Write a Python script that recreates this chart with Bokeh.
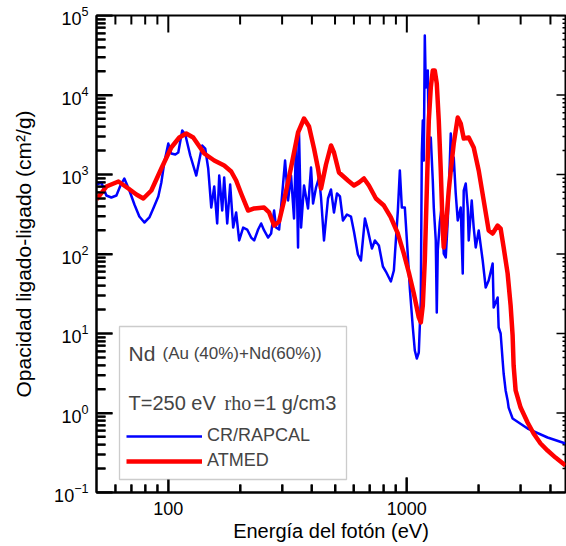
import math
from bokeh.plotting import figure
from bokeh.models import (Range1d, FixedTicker, BasicTickFormatter, LogTickFormatter,
                          BoxAnnotation, Label, Legend, LegendItem)
from bokeh.embed import file_html
from bokeh.resources import INLINE

FONT = "Liberation Sans"

# CR/RAPCAL (blue)
energy_rapcal = [50, 52.4, 55.0, 57.7, 60.6, 63.0, 65.4, 68.7, 72.1, 75.6,
                 79.4, 83.3, 86.5, 90.8, 93.5, 96.2, 100, 102.9, 107.0, 110.1,
                 114.4, 117.8, 123.6, 131.0, 134.8, 138.8, 142.8, 147.0, 151.4, 155.8,
                 160.3, 163.5, 168.3, 171.5, 176.6, 181.7, 187.1, 192.5, 198.2, 206.0,
                 214.1, 222.5, 229.0, 238.0, 245.0, 252.2, 262.1, 269.8, 277.7, 283.1,
                 291.4, 299.9, 308.7, 317.7, 327.0, 336.6, 343.2, 349.9, 353.3, 360.2,
                 370.7, 385.3, 396.6, 404.4, 416.2, 428.4, 436.8, 449.5, 467.2, 480.9,
                 495.0, 509.5, 524.4, 539.8, 561.0, 583.1, 600.2, 623.8, 642.1, 667.4,
                 686.9, 713.9, 734.8, 763.6, 793.7, 816.9, 857.3, 882.3, 917.0, 934.8,
                 953.0, 980.9, 1009.7, 1029.4, 1059.5, 1080.1, 1101.1, 1122.5, 1144.4, 1155.5,
                 1166.7, 1178.0, 1189.4, 1201.0, 1224.3, 1236.2, 1260.2, 1284.7, 1297.2, 1322.3,
                 1335.2, 1348.1, 1374.4, 1401.0, 1428.2, 1456.1, 1484.4, 1498.8, 1528.1, 1557.9,
                 1573.0, 1603.3, 1634.6, 1682.5, 1715.3, 1732.0, 1765.8, 1800.0, 1817.5, 1870.9,
                 1907.3, 1944.5, 2001.5, 2080.0, 2140.9, 2203.5, 2289.8, 2312.1, 2403.0, 2426.2,
                 2473.4, 2521.6, 2546.2, 2595.6, 2646.0, 2671.7, 2776.5, 3208.6, 3890.5, 4626]
opacity_rapcal = [748, 793, 544, 514, 544, 727, 891, 629, 419, 296,
                  249, 288, 374, 529, 793, 1416, 2455, 1837, 1784, 1891,
                  3576, 3185, 1734, 971, 1500, 2316, 2123, 1190, 384, 706,
                  242, 971, 352, 916, 242, 748, 215, 333, 148, 215,
                  203, 161, 148, 203, 242, 198, 161, 181, 352, 215,
                  203, 544, 1500, 471, 971, 280, 2677, 121, 3280, 215,
                  727, 374, 1225, 432, 686, 916, 514, 148, 499, 648,
                  333, 577, 529, 264, 314, 296, 192, 98.5, 82.8, 280,
                  198, 117, 148, 128, 69.6, 60.2, 45.1, 62.0, 352, 1123,
                  384, 384, 95.7, 36.8, 11.9, 6.11, 4.85, 5.77, 26.0, 1837,
                  4778, 1500, 56000, 12420, 20330, 2186, 2920, 840, 384, 148,
                  18.4, 111, 249, 407, 101, 90.3, 264, 577, 3280, 1123,
                  1636, 577, 264, 384, 56.8, 629, 771, 384, 148, 471,
                  215, 121, 198, 82.8, 37.9, 46.4, 75.9, 21.2, 28.4, 11.9,
                  10.0, 4.57, 3.14, 1.92, 1.44, 1.17, 0.853, 0.638, 0.492, 0.413]

# ATMED (red)
energy_atmed = [50, 55.0, 61.8, 68.0, 73.5, 78.6, 84.9, 93.5, 102.9, 111.2,
                118.9, 127.2, 141.5, 155.8, 171.5, 183.5, 192.5, 202.0, 216.1, 229.0,
                252.2, 264.6, 277.7, 291.4, 305.8, 327.0, 349.9, 370.7, 389.0, 408.2,
                424.3, 436.8, 458.3, 480.9, 495.0, 519.4, 566.4, 600.2, 630.0, 661.0,
                693.5, 742.0, 801.4, 857.3, 917.0, 971.4, 1019.5, 1069.8, 1122.5, 1144.4,
                1166.7, 1189.4, 1212.6, 1236.2, 1260.2, 1284.7, 1309.7, 1335.2, 1361.1, 1387.7,
                1414.5, 1428.2, 1456.1, 1498.8, 1528.1, 1573.0, 1634.6, 1682.5, 1732.0, 1817.5,
                1907.3, 2001.5, 2100.3, 2203.5, 2289.8, 2403.0, 2473.4, 2546.2, 2646.0, 2723.4,
                2776.5, 2803.6, 2858.3, 2999.0, 3208.6, 3399.6, 3636.6, 3890.5, 4201.3, 4626]
opacity_atmed = [485, 706, 816, 667, 560, 499, 629, 1190, 2186, 2920,
                 3280, 2920, 1837, 1500, 1298, 1091, 840, 577, 352, 374,
                 384, 333, 228, 256, 471, 1225, 3376, 5062, 4016, 2123,
                 1190, 667, 1336, 2316, 1891, 1059, 840, 727, 793, 891,
                 727, 499, 407, 288, 181, 101, 58.5, 31.8, 15.9, 13.8,
                 22.5, 82.8, 629, 4778, 12420, 20330, 20330, 13950, 4778, 1123,
                 197.5, 121, 209, 629, 1123, 2455, 5212, 4380, 2837, 2920,
                 2186, 1123, 471, 197.5, 181, 228, 209, 121, 56.8, 22.5,
                 9.44, 3.96, 1.92, 1.17, 0.76, 0.552, 0.413, 0.337, 0.275, 0.219]

x_major_ticks = [100, 1000]
x_minor_ticks = [60, 70, 80, 90, 200, 300, 400, 500, 600, 700, 800, 900, 2000, 3000, 4000]
y_major_ticks = [0.1, 1, 10, 100, 1000, 10000, 100000]
y_minor_ticks = [m * d for d in [0.1, 1, 10, 100, 1000, 10000] for m in range(2, 10)]

X_LO, X_HI = 50, 4626
Y_LO, Y_HI = 0.1, 1e5
W, H = 566, 546
B_LEFT, B_RIGHT, B_TOP, B_BOTTOM = 96, 1, 15, 54

p = figure(width=W, height=H, x_axis_type="log", y_axis_type="log",
           x_range=Range1d(X_LO, X_HI), y_range=Range1d(Y_LO, Y_HI),
           output_backend="svg", toolbar_location=None,
           min_border_left=B_LEFT, min_border_right=B_RIGHT,
           min_border_top=B_TOP, min_border_bottom=B_BOTTOM)
p.xgrid.visible = False
p.ygrid.visible = False
# frame outline provides the top and right axis lines
p.outline_line_color = "black"
p.outline_line_width = 2


def style_axis(ax, major_in, minor_in, lw):
    ax.axis_line_color = "black"
    ax.axis_line_width = lw
    ax.major_tick_in = major_in
    ax.major_tick_out = 0
    ax.minor_tick_in = minor_in
    ax.minor_tick_out = 0
    ax.major_tick_line_color = "black"
    ax.minor_tick_line_color = "black"
    ax.major_tick_line_width = lw
    ax.minor_tick_line_width = lw


xax = p.xaxis[0]
xax.ticker = FixedTicker(ticks=x_major_ticks, minor_ticks=x_minor_ticks)
xax.formatter = BasicTickFormatter()
style_axis(xax, 15, 8, 2)
xax.major_label_text_font = FONT
xax.major_label_text_font_size = "18px"
xax.major_label_text_color = "black"
xax.major_label_standoff = 9
xax.axis_label = "Energía del fotón (eV)"
xax.axis_label_text_font = FONT
xax.axis_label_text_font_size = "20px"
xax.axis_label_text_font_style = "normal"
xax.axis_label_text_color = "black"
xax.axis_label_standoff = 2

yax = p.yaxis[0]
yax.ticker = FixedTicker(ticks=y_major_ticks, minor_ticks=y_minor_ticks)
yax.formatter = LogTickFormatter()
style_axis(yax, 16, 9, 2)
yax.major_label_text_font = FONT
yax.major_label_text_font_size = "18px"
yax.major_label_text_color = "black"
yax.major_label_standoff = 8
yax.axis_label = "Opacidad ligado-ligado (cm²/g)"
yax.axis_label_text_font = FONT
yax.axis_label_text_font_size = "21px"
yax.axis_label_text_font_style = "normal"
yax.axis_label_text_color = "black"
yax.axis_label_standoff = 16

# Inward tick marks on all four sides, from the tick lists (lengths in pixels)
frame_w = W - B_LEFT - B_RIGHT
frame_h = H - B_TOP - B_BOTTOM
x_px_per_dec = frame_w / (math.log10(X_HI) - math.log10(X_LO))
y_px_per_dec = frame_h / (math.log10(Y_HI) - math.log10(Y_LO))


def xf(px):
    return 10 ** (px / x_px_per_dec)


def yf(px):
    return 10 ** (px / y_px_per_dec)


def add_ticks(x0, y0, x1, y1, lw):
    p.segment(x0=x0, y0=y0, x1=x1, y1=y1, line_color="black", line_width=lw)


for ticks, ln in ((x_major_ticks, 15), (x_minor_ticks, 8)):
    add_ticks(ticks, [Y_LO] * len(ticks), ticks, [Y_LO * yf(ln)] * len(ticks), 2)
for ticks, ln in ((x_major_ticks, 17), (x_minor_ticks, 9)):
    add_ticks(ticks, [Y_HI] * len(ticks), ticks, [Y_HI / yf(ln)] * len(ticks), 2)
for ticks, ln in ((y_major_ticks, 16), (y_minor_ticks, 9)):
    add_ticks([X_LO] * len(ticks), ticks, [X_LO * xf(ln)] * len(ticks), ticks, 2)
for ticks, ln in ((y_major_ticks, 9), (y_minor_ticks, 3)):
    add_ticks([X_HI] * len(ticks), ticks, [X_HI / xf(ln)] * len(ticks), ticks, 1.5)

r_blue = p.line(energy_rapcal, opacity_rapcal, line_color="#0000ff", line_width=2.5,
                line_join="round")
r_red = p.line(energy_atmed, opacity_atmed, line_color="#ff0000", line_width=4.5,
               line_join="round")

# Legend frame
box = BoxAnnotation(left=23, right=250, top=166, bottom=13,
                    left_units="screen", right_units="screen",
                    top_units="screen", bottom_units="screen",
                    fill_color="white", fill_alpha=1.0,
                    line_color="#555555", line_width=1.3)
p.add_layout(box)

legend = Legend(items=[LegendItem(label="CR/RAPCAL", renderers=[r_blue]),
                       LegendItem(label="ATMED", renderers=[r_red])],
                location=(30, 21), glyph_width=76, glyph_height=20, label_height=20,
                spacing=4, padding=0, margin=0, border_line_color=None,
                background_fill_alpha=0, label_text_font=FONT, label_text_font_size="18px",
                label_standoff=5)
p.add_layout(legend)

labels = [
    Label(x=32, y=139, text="Nd", text_font=FONT, text_font_size="21px"),
    Label(x=66, y=139, text="(Au (40%)+Nd(60%))", text_font=FONT, text_font_size="17px"),
    Label(x=32, y=90, text="T=250 eV", text_font=FONT, text_font_size="20px"),
    Label(x=128, y=90, text="rho", text_font="Liberation Serif", text_font_size="20px"),
    Label(x=157, y=90, text="=1 g/cm3", text_font=FONT, text_font_size="20px"),
]
for lab in labels:
    lab.x_units = "screen"
    lab.y_units = "screen"
    lab.text_baseline = "alphabetic"
    p.add_layout(lab)

open("out.html", "w").write(file_html(p, INLINE))
